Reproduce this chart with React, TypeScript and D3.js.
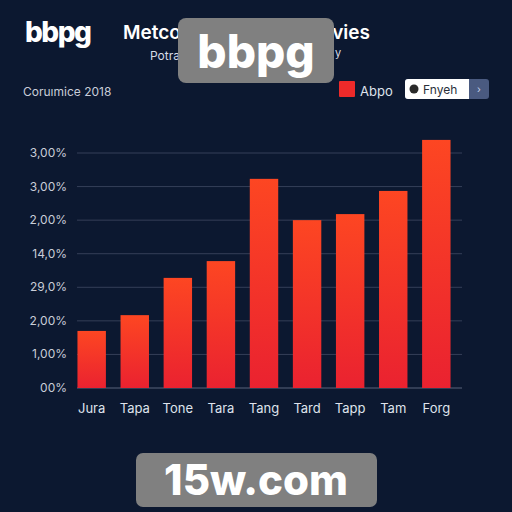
import React from "react";
import * as d3 from "d3";

const categories = ["Jura", "Tapa", "Tone", "Tara", "Tang", "Tard", "Tapp", "Tam", "Forg"];
const values = [1.7, 2.17, 3.28, 3.78, 6.23, 5.0, 5.18, 5.87, 7.39];
const tickValues = [0, 1, 2, 3, 4, 5, 6, 7];
const tickLabels = ["00%", "1,00%", "2,00%", "29,0%", "14,0%", "2,00%", "3,00%", "3,00%"];

const W = 512;
const H = 512;
const FONT = "Inter, 'Open Sans', sans-serif";

export default function App() {
  const x = d3.scaleBand().domain(categories).range([71, 457]).paddingInner(0.34).paddingOuter(0.15);
  const y = d3.scaleLinear().domain([0, 7]).range([388, 153]);
  const barCenters = categories.map((c) => (x(c) as number) + x.bandwidth() / 2);

  return (
    <svg width={W} height={H} style={{ position: "absolute", left: 0, top: 0, display: "block" }}>
      <defs>
        <linearGradient id="barGrad" x1="0" y1="0" x2="0" y2="1">
          <stop offset="0%" stopColor="#fd4622" />
          <stop offset="100%" stopColor="#ea2230" />
        </linearGradient>
      </defs>
      <rect x={0} y={0} width={W} height={H} fill="#0c1830" />

      {/* header */}
      <text x={25} y={42} fill="#ffffff" fontFamily={FONT} fontWeight={800} fontSize={28} letterSpacing={-1.5}>bbpg</text>
      <text x={123} y={39} fill="#ffffff" fontFamily={FONT} fontWeight={600} fontSize={19}>Metco</text>
      <text x={370} y={39} fill="#ffffff" fontFamily={FONT} fontWeight={600} fontSize={19} textAnchor="end">vies</text>
      <text x={150} y={60} fill="#d8dce6" fontFamily={FONT} fontSize={12}>Potra</text>
      <text x={335} y={57} fill="#d8dce6" fontFamily={FONT} fontSize={11}>y</text>
      <text x={23} y={96} fill="#c9cdd8" fontFamily={FONT} fontSize={12}>Coruımice 2018</text>

      {/* legend */}
      <rect x={339} y={81} width={16} height={16} fill="#ee2a2a" rx={1} />
      <text x={360} y={96} fill="#dfe3ec" fontFamily={FONT} fontSize={13}>Abpo</text>
      <rect x={405} y={79} width={84} height={20} rx={3} fill="#4a5a80" />
      <path d="M408,79 h61 v20 h-61 a3,3 0 0 1 -3,-3 v-14 a3,3 0 0 1 3,-3 z" fill="#ffffff" />
      <circle cx={414} cy={89} r={4.5} fill="#2a2a2a" />
      <text x={423} y={94} fill="#2a2f3a" fontFamily={FONT} fontSize={12}>Fnyeh</text>
      <text x={479} y={93} fill="#c8d2ea" fontFamily={FONT} fontSize={10} textAnchor="middle">›</text>

      {/* grid */}
      {tickValues.map((t, i) => (
        <g key={t}>
          <line x1={77} x2={462} y1={y(t)} y2={y(t)} stroke={i === 0 ? "#59627a" : "#353f58"} strokeWidth={1} />
          <text x={67} y={y(t) + 4} fill="#c9cdd8" fontFamily={FONT} fontSize={12} textAnchor="end">{tickLabels[i]}</text>
        </g>
      ))}

      {/* bars */}
      {categories.map((c, i) => (
        <rect key={c} x={x(c)} y={y(values[i])} width={x.bandwidth()} height={y(0) - y(values[i])} fill="url(#barGrad)" />
      ))}

      {categories.map((c, i) => (
        <text key={c} x={barCenters[i]} y={413} fill="#dfe3ec" fontFamily={FONT} fontSize={13} textAnchor="middle">{c}</text>
      ))}

      {/* watermarks */}
      <rect x={178} y={18} width={156} height={65} rx={8} fill="#808080" />
      <text x={256} y={68} fill="#ffffff" fontFamily={FONT} fontWeight={800} fontSize={46} textAnchor="middle">bbpg</text>
      <rect x={136} y={453} width={241} height={54} rx={7} fill="#808080" />
      <text x={256} y={495} fill="#ffffff" fontFamily={FONT} fontWeight={800} fontSize={42} textAnchor="middle">15w.com</text>
    </svg>
  );
}
